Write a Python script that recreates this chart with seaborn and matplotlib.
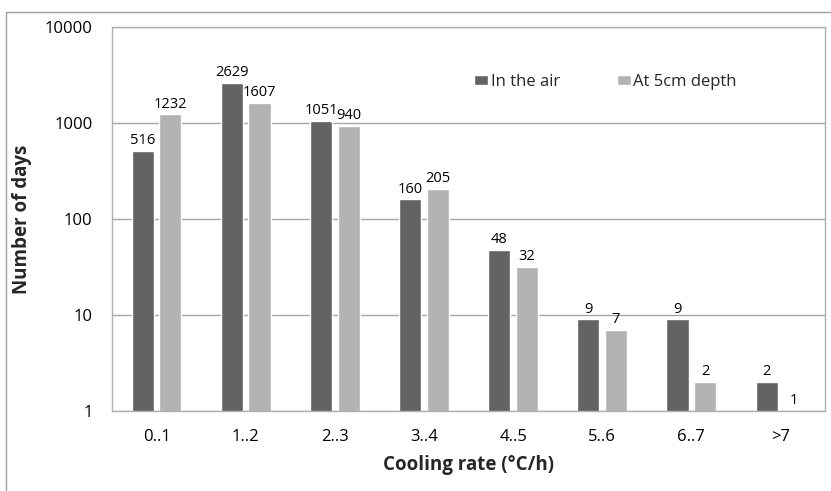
import matplotlib
matplotlib.use("Agg")
import matplotlib.pyplot as plt
import seaborn as sns
import pandas as pd
from matplotlib.patches import Rectangle

categories = ["0..1", "1..2", "2..3", "3..4", "4..5", "5..6", "6..7", ">7"]
air = [516, 2629, 1051, 160, 48, 9, 9, 2]
depth = [1232, 1607, 940, 205, 32, 7, 2, 1]
series_names = ["In the air", "At 5cm depth"]
colors = ["#636363", "#b3b3b3"]

df = pd.DataFrame({
    "cat": categories * 2,
    "val": air + depth,
    "series": [series_names[0]] * len(categories) + [series_names[1]] * len(categories),
})

sns.set_theme(style="white")
plt.rcParams["font.family"] = ["Open Sans", "DejaVu Sans"]

fig = plt.figure(figsize=(8.31, 4.91), dpi=100)
ax = fig.add_axes([112 / 831, 1 - 411 / 491, (825 - 112) / 831, (411 - 27) / 491])

sns.barplot(data=df, x="cat", y="val", hue="series", palette=colors,
            width=0.62, gap=0.2, ax=ax, order=categories, hue_order=series_names,
            saturation=1, legend=True)
ax.set_yscale("log")
ax.set_ylim(1, 10000)
ax.set_xlim(-0.5, len(categories) - 0.5)

for cont in ax.containers:
    labels = [f"{int(v)}" for v in cont.datavalues]
    ax.bar_label(cont, labels=labels, padding=2, fontsize=10.5, color="#000000")

ax.set_yticks([1, 10, 100, 1000, 10000])
ax.set_yticklabels(["1", "10", "100", "1000", "10000"])
ax.minorticks_off()
ax.tick_params(axis="y", length=0, pad=14, labelsize=12, colors="#000000")
ax.tick_params(axis="x", length=0, pad=13, labelsize=12, colors="#000000")
ax.yaxis.grid(True, color="#a6a6a6", linewidth=1)
ax.set_axisbelow(True)
for s in ax.spines.values():
    s.set_visible(True)
    s.set_color("#b0b0b0")
    s.set_linewidth(1)

ax.set_xlabel("Cooling rate (°C/h)", fontsize=13.5, fontweight="bold", labelpad=7)
ax.set_ylabel("Number of days", fontsize=13.5, fontweight="bold", labelpad=9)

leg = ax.legend(loc="center left", bbox_to_anchor=(0.508, 0.857), ncol=2, frameon=False,
                fontsize=12, handlelength=0.85, handleheight=0.6, columnspacing=3.4,
                handletextpad=0.15, borderpad=0, borderaxespad=0)

fig.patches.append(Rectangle((6 / 831, -0.01), 1.0, 1 - 12 / 491 + 0.01,
                             transform=fig.transFigure, fill=False,
                             edgecolor="#a0a0a0", linewidth=1))

fig.savefig("out.png", dpi=100, facecolor="white")
